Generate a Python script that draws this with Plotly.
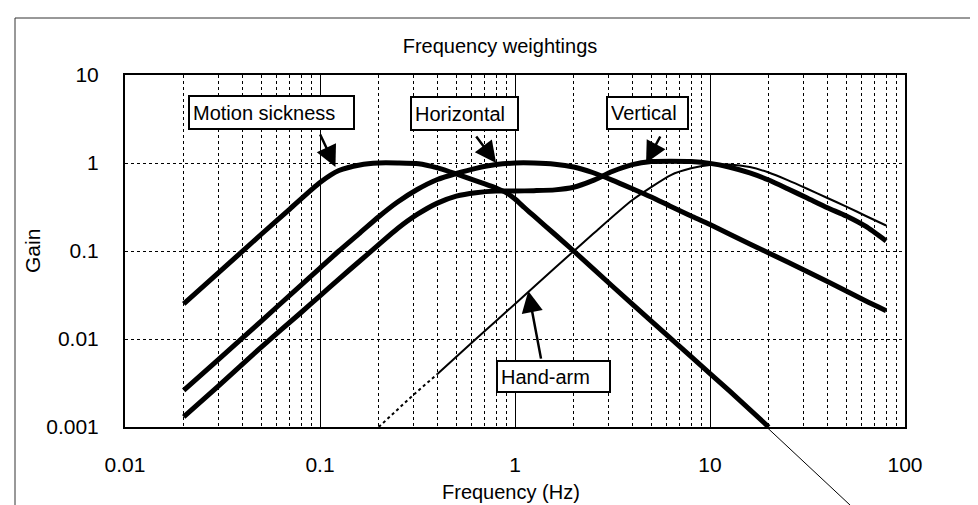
import math
import plotly.graph_objects as go

# ---- data ----
ms_f = [0.02, 0.03, 0.05, 0.07, 0.1, 0.125, 0.16, 0.2, 0.25, 0.32, 0.4, 0.5, 0.6, 0.7, 0.8, 0.9, 1.0, 1.12, 1.25, 1.6, 2.0, 3.15, 5.0, 8.0, 12.5, 20.0]
ms_g = [0.025, 0.056, 0.155, 0.3, 0.6, 0.82, 0.95, 1.0, 1.0, 0.98, 0.88, 0.75, 0.65, 0.58, 0.52, 0.46, 0.39, 0.31, 0.25, 0.155, 0.1, 0.04, 0.016, 0.0063, 0.0026, 0.001]

hz_f = [0.02, 0.03, 0.05, 0.08, 0.1, 0.125, 0.16, 0.2, 0.25, 0.315, 0.4, 0.5, 0.63, 0.8, 1.0, 1.25, 1.6, 2.0, 2.5, 3.15, 4.0, 5.0, 6.3, 8.0, 10, 16, 25, 40, 63, 80]
hz_g = [0.0026, 0.0058, 0.016, 0.041, 0.064, 0.1, 0.16, 0.245, 0.36, 0.5, 0.65, 0.76, 0.87, 0.96, 1.0, 1.0, 0.97, 0.9, 0.78, 0.64, 0.51, 0.41, 0.32, 0.25, 0.2, 0.12, 0.075, 0.045, 0.027, 0.021]

vt_f = [0.02, 0.03, 0.05, 0.08, 0.1, 0.125, 0.16, 0.2, 0.25, 0.315, 0.4, 0.5, 0.63, 0.8, 1.0, 1.25, 1.6, 2.0, 2.5, 3.15, 4.0, 5.0, 6.3, 8.0, 10, 12.5, 16, 20, 25, 31.5, 40, 50, 63, 80]
vt_g = [0.0013, 0.0029, 0.0081, 0.02, 0.031, 0.048, 0.077, 0.118, 0.18, 0.26, 0.35, 0.42, 0.46, 0.48, 0.48, 0.485, 0.495, 0.53, 0.63, 0.8, 0.96, 1.04, 1.05, 1.04, 0.99, 0.9, 0.77, 0.64, 0.51, 0.4, 0.31, 0.25, 0.19, 0.13]

ha_dash_f = [0.2, 0.3, 0.4]
ha_dash_g = [0.001, 0.0023, 0.004]
ha_f = [0.4, 0.63, 1.0, 1.6, 2.5, 4.0, 6.3, 8.0, 10, 12.5, 16, 20, 25, 31.5, 40, 50, 63, 80]
ha_g = [0.004, 0.01, 0.025, 0.064, 0.155, 0.38, 0.73, 0.87, 0.95, 0.96, 0.9, 0.78, 0.64, 0.51, 0.4, 0.32, 0.25, 0.195]

x_ticks = [0.01, 0.1, 1, 10, 100]
x_ticktext = ["0.01", "0.1", "1", "10", "100"]
y_ticks = [0.001, 0.01, 0.1, 1, 10]
y_ticktext = ["0.001", "0.01", "0.1", "1", "10"]

labels = ["Motion sickness", "Horizontal", "Vertical", "Hand-arm"]
title_text = "Frequency weightings"
x_title = "Frequency (Hz)"
y_title = "Gain"

FONT = "Liberation Sans, Arial, sans-serif"

fig = go.Figure()
thick = dict(color="black", width=5, shape="spline", smoothing=0.6)
fig.add_trace(go.Scatter(x=ms_f, y=ms_g, mode="lines", line=thick, name=labels[0]))
fig.add_trace(go.Scatter(x=hz_f, y=hz_g, mode="lines", line=thick, name=labels[1]))
fig.add_trace(go.Scatter(x=vt_f, y=vt_g, mode="lines", line=thick, name=labels[2]))
fig.add_trace(go.Scatter(x=ha_dash_f, y=ha_dash_g, mode="lines",
                         line=dict(color="black", width=2, dash="3px,3px"), name=labels[3]))
fig.add_trace(go.Scatter(x=ha_f, y=ha_g, mode="lines",
                         line=dict(color="black", width=2, shape="spline", smoothing=0.6), name=labels[3]))

L, R, T, B = 117, 81, 67, 86
W, H = 978, 505
PW, PH = W - L - R, H - T - B


def px2paper(px, py):
    return (px - L) / PW, (H - B - py) / PH


annotations = []
# label boxes: (label, left, top, right, bottom) in pixels
boxes = [(labels[0], 179, 87, 348, 122), (labels[1], 401, 88, 512, 123),
         (labels[2], 597, 88, 682, 122), (labels[3], 487, 352, 604, 385)]
for txt, x0, y0, x1, y1 in boxes:
    cx, cy = px2paper((x0 + x1) / 2, (y0 + y1) / 2)
    annotations.append(dict(text=txt, xref="paper", yref="paper", x=cx, y=cy,
                            xanchor="center", yanchor="middle", showarrow=False,
                            width=(x1 - x0) - 12, height=(y1 - y0) - 10, align="left",
                            bordercolor="black", borderwidth=2, borderpad=3, bgcolor="white",
                            font=dict(family=FONT, size=20, color="black")))

# arrows: tip in data coords (log10 for log axes), tail offset in pixels
arrows = [(0.12, 0.9, -16, -34), (0.8, 1.0, -21, -28), (4.7, 1.0, 15, -28), (1.17, 0.035, 13, 69)]
for fx, gy, ax, ay in arrows:
    annotations.append(dict(text="", x=math.log10(fx), y=math.log10(gy), xref="x", yref="y",
                            showarrow=True, ax=ax, ay=ay, arrowhead=2, arrowsize=1.7,
                            arrowwidth=2.5, arrowcolor="black", standoff=0))
# leader line continuing below the axis
annotations.append(dict(text="", x=math.log10(19.5), y=math.log10(0.001), xref="x", yref="y",
                        showarrow=True, ax=92, ay=86, arrowhead=0, arrowwidth=1,
                        arrowcolor="black", standoff=0))

# axis titles
gx, gy_ = px2paper(24, 243)
annotations.append(dict(text=y_title, xref="paper", yref="paper", x=gx, y=gy_, textangle=-90,
                        showarrow=False, xanchor="center", yanchor="middle",
                        font=dict(family=FONT, size=21, color="black")))
fx_, fy_ = px2paper(503, 484)
annotations.append(dict(text=x_title, xref="paper", yref="paper", x=fx_, y=fy_,
                        showarrow=False, xanchor="center", yanchor="middle",
                        font=dict(family=FONT, size=20, color="black")))

fx0, fy0 = px2paper(7, 503)
fx1, fy1 = px2paper(975, 10)
shapes = [dict(type="rect", xref="paper", yref="paper", x0=fx0, y0=fy0, x1=fx1, y1=fy1,
               line=dict(color="#333333", width=1), layer="below")]

fig.update_layout(
    width=W, height=H, margin=dict(l=L, r=R, t=T, b=B),
    paper_bgcolor="white", plot_bgcolor="white", showlegend=False,
    title=dict(text=title_text, x=492 / W, xanchor="center", y=1 - 38 / H, yanchor="middle",
               font=dict(family=FONT, size=20, color="black")),
    font=dict(family=FONT, color="black"),
    annotations=annotations, shapes=shapes,
)
fig.update_xaxes(type="log", range=[-2, 2], tickvals=x_ticks, ticktext=x_ticktext,
                 tickfont=dict(family=FONT, size=21, color="black"), ticklabelstandoff=18,
                 showline=True, mirror=True, linecolor="black", linewidth=2,
                 showgrid=True, gridcolor="black", gridwidth=1, zeroline=False,
                 minor=dict(dtick="D1", showgrid=True, gridcolor="black", gridwidth=1, griddash="dot"))
fig.update_yaxes(type="log", range=[-3, 1], tickvals=y_ticks, ticktext=y_ticktext,
                 tickfont=dict(family=FONT, size=21, color="black"), ticklabelstandoff=20,
                 showline=True, mirror=True, linecolor="black", linewidth=2,
                 showgrid=True, gridcolor="black", gridwidth=1, griddash="dot", zeroline=False)

fig.write_html("out.html")
